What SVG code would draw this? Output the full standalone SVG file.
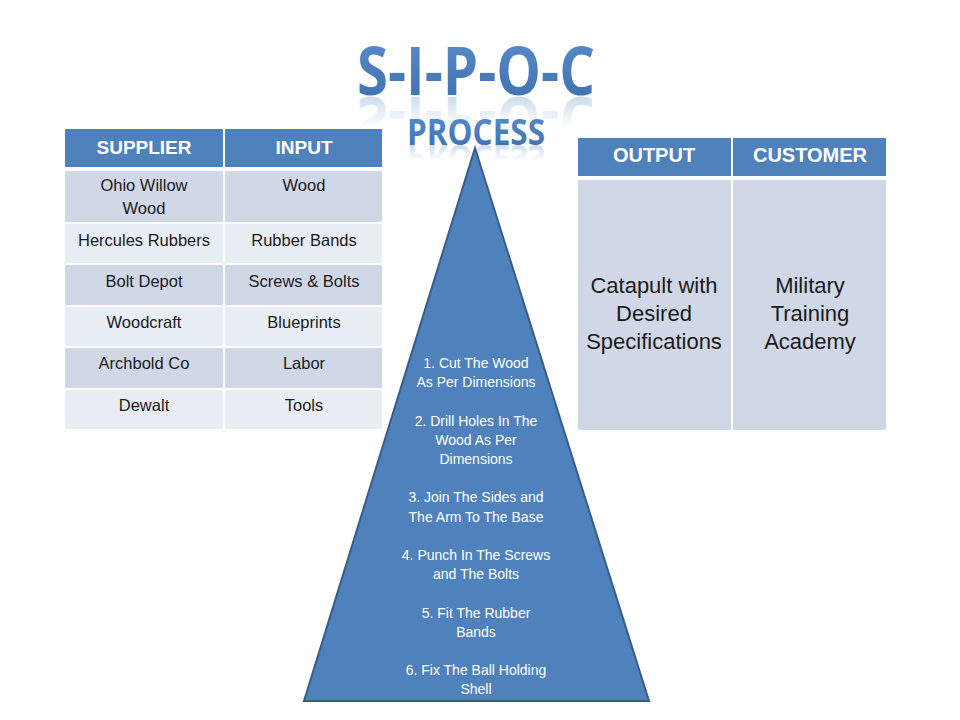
<svg xmlns="http://www.w3.org/2000/svg" width="960" height="720" viewBox="0 0 960 720">
  <defs>
    <linearGradient id="titleFill" x1="0" y1="0" x2="0" y2="1">
      <stop offset="0" stop-color="#5d90d0"/>
      <stop offset="1" stop-color="#3b6cab"/>
    </linearGradient>
    <linearGradient id="reflFill" x1="0" y1="0" x2="0" y2="1">
      <stop offset="0" stop-color="#4f81bd" stop-opacity="0"/>
      <stop offset="0.45" stop-color="#4f81bd" stop-opacity="0"/>
      <stop offset="1" stop-color="#4f81bd" stop-opacity="0.45"/>
    </linearGradient>
    <style>
      .hdr { fill: #4f81bd; stroke: #ffffff; stroke-width: 2; }
      .dark { fill: #d0d8e8; stroke: #ffffff; stroke-width: 2; }
      .light { fill: #e9edf4; stroke: #ffffff; stroke-width: 2; }
      .htxt { font-family: "Liberation Sans", Arial, sans-serif; font-weight: bold; font-size: 19px; fill: #ffffff; text-anchor: middle; }
      .htxt2 { font-family: "Liberation Sans", Arial, sans-serif; font-weight: bold; font-size: 20px; fill: #ffffff; text-anchor: middle; }
      .btxt { font-family: "Liberation Sans", Arial, sans-serif; font-size: 16.5px; fill: #1a1a1a; text-anchor: middle; }
      .rtxt { font-family: "Liberation Sans", Arial, sans-serif; font-size: 22px; fill: #1a1a1a; text-anchor: middle; }
      .ptxt { font-family: "Liberation Sans", Arial, sans-serif; font-size: 14px; fill: #ffffff; text-anchor: middle; }
      .title { font-family: "Open Sans", "Liberation Sans", sans-serif; font-weight: bold; text-anchor: middle; }
    </style>
  </defs>
  <rect width="960" height="720" fill="#ffffff"/>

  <g id="title">
    <g transform="translate(0,192) scale(1,-1)">
      <text class="title" x="476" y="95" font-size="66" textLength="238" lengthAdjust="spacingAndGlyphs" fill="url(#reflFill)">S-I-P-O-C</text>
    </g>
    <text class="title" x="476" y="95" font-size="66" textLength="238" lengthAdjust="spacingAndGlyphs" fill="url(#titleFill)">S-I-P-O-C</text>
    <g transform="translate(0,290) scale(1,-1)">
      <text class="title" x="476" y="145" font-size="35" textLength="138" lengthAdjust="spacingAndGlyphs" fill="url(#reflFill)">PROCESS</text>
    </g>
    <text class="title" x="476" y="145" font-size="35" textLength="138" lengthAdjust="spacingAndGlyphs" fill="url(#titleFill)">PROCESS</text>
  </g>

  <g id="supplier-input">
    <rect class="hdr" x="64" y="128" width="160" height="40"/>
    <rect class="hdr" x="224" y="128" width="159" height="40"/>
    <text class="htxt" x="144" y="154">SUPPLIER</text>
    <text class="htxt" x="304" y="154">INPUT</text>

    <rect class="dark" x="64" y="170" width="160" height="53"/>
    <rect class="dark" x="224" y="170" width="159" height="53"/>
    <rect class="light" x="64" y="223" width="160" height="41"/>
    <rect class="light" x="224" y="223" width="159" height="41"/>
    <rect class="dark" x="64" y="264" width="160" height="42"/>
    <rect class="dark" x="224" y="264" width="159" height="42"/>
    <rect class="light" x="64" y="306" width="160" height="41"/>
    <rect class="light" x="224" y="306" width="159" height="41"/>
    <rect class="dark" x="64" y="347" width="160" height="42"/>
    <rect class="dark" x="224" y="347" width="159" height="42"/>
    <rect class="light" x="64" y="389" width="160" height="41"/>
    <rect class="light" x="224" y="389" width="159" height="41"/>

    <text class="btxt" x="144" y="191">Ohio Willow</text>
    <text class="btxt" x="144" y="214">Wood</text>
    <text class="btxt" x="304" y="191">Wood</text>
    <text class="btxt" x="144" y="246">Hercules Rubbers</text>
    <text class="btxt" x="304" y="246">Rubber Bands</text>
    <text class="btxt" x="144" y="287">Bolt Depot</text>
    <text class="btxt" x="304" y="287">Screws &amp; Bolts</text>
    <text class="btxt" x="144" y="328">Woodcraft</text>
    <text class="btxt" x="304" y="328">Blueprints</text>
    <text class="btxt" x="144" y="369">Archbold Co</text>
    <text class="btxt" x="304" y="369">Labor</text>
    <text class="btxt" x="144" y="411">Dewalt</text>
    <text class="btxt" x="304" y="411">Tools</text>
  </g>

  <g id="output-customer">
    <rect class="hdr" x="577" y="137" width="155" height="40"/>
    <rect class="hdr" x="732" y="137" width="155" height="40"/>
    <text class="htxt2" x="654" y="162">OUTPUT</text>
    <text class="htxt2" x="810" y="162">CUSTOMER</text>

    <rect class="dark" x="577" y="179" width="155" height="252"/>
    <rect class="dark" x="732" y="179" width="155" height="252"/>

    <text class="rtxt" x="654" y="293">Catapult with</text>
    <text class="rtxt" x="654" y="321">Desired</text>
    <text class="rtxt" x="654" y="349">Specifications</text>
    <text class="rtxt" x="810" y="293">Military</text>
    <text class="rtxt" x="810" y="321">Training</text>
    <text class="rtxt" x="810" y="349">Academy</text>
  </g>

  <g id="process">
    <polygon points="475,148 304,701 649,701" fill="#4f81bd" stroke="#385d8a" stroke-width="2" stroke-linejoin="miter"/>
    <text class="ptxt" x="476" y="368">1. Cut The Wood</text>
    <text class="ptxt" x="476" y="387">As Per Dimensions</text>
    <text class="ptxt" x="476" y="426">2. Drill Holes In The</text>
    <text class="ptxt" x="476" y="445">Wood As Per</text>
    <text class="ptxt" x="476" y="464">Dimensions</text>
    <text class="ptxt" x="476" y="502">3. Join The Sides and</text>
    <text class="ptxt" x="476" y="522">The Arm To The Base</text>
    <text class="ptxt" x="476" y="560">4. Punch In The Screws</text>
    <text class="ptxt" x="476" y="579">and The Bolts</text>
    <text class="ptxt" x="476" y="618">5. Fit The Rubber</text>
    <text class="ptxt" x="476" y="637">Bands</text>
    <text class="ptxt" x="476" y="675">6. Fix The Ball Holding</text>
    <text class="ptxt" x="476" y="694">Shell</text>
  </g>

  <g id="connectors"/>
</svg>
